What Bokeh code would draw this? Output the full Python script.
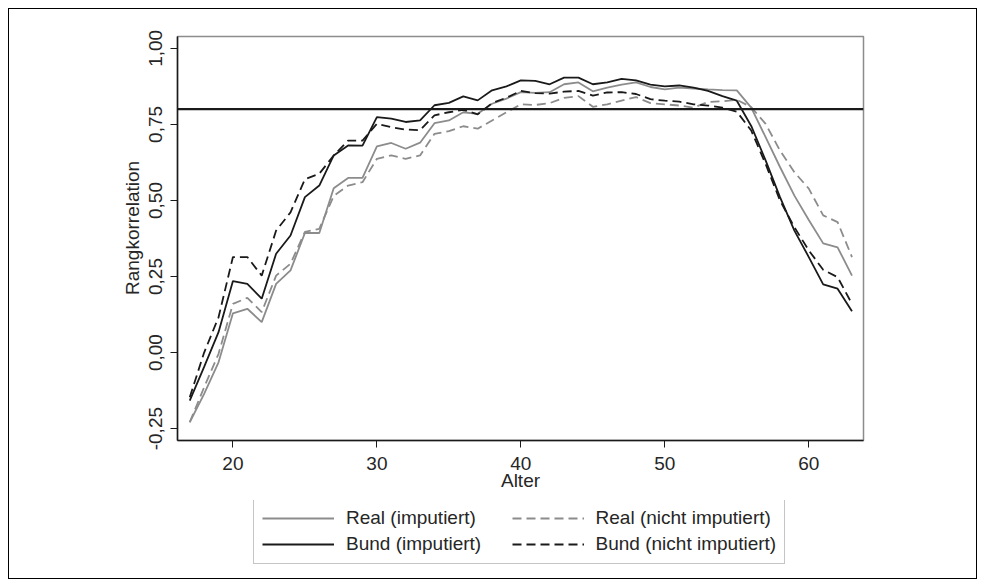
from bokeh.plotting import figure
from bokeh.layouts import column
from bokeh.models import (FixedTicker, CustomJSTickFormatter, Legend, LegendItem,
                          Span, Range1d)
from bokeh.embed import file_html
from bokeh.resources import INLINE

ages = list(range(17, 64))

real_imp = [-0.229, -0.136, -0.032, 0.129, 0.144, 0.100, 0.226, 0.270, 0.393, 0.393,
            0.540, 0.574, 0.574, 0.678, 0.689, 0.670, 0.690, 0.754, 0.763, 0.790,
            0.785, 0.818, 0.835, 0.856, 0.854, 0.856, 0.882, 0.888, 0.859, 0.871,
            0.881, 0.888, 0.873, 0.865, 0.871, 0.868, 0.865, 0.863, 0.862, 0.805,
            0.708, 0.610, 0.516, 0.436, 0.359, 0.346, 0.253]

real_nimp = [-0.229, -0.114, -0.004, 0.160, 0.180, 0.133, 0.253, 0.292, 0.397, 0.407,
             0.515, 0.549, 0.560, 0.637, 0.648, 0.637, 0.648, 0.719, 0.728, 0.744,
             0.736, 0.763, 0.790, 0.816, 0.814, 0.820, 0.837, 0.843, 0.808, 0.816,
             0.828, 0.840, 0.820, 0.816, 0.812, 0.805, 0.824, 0.826, 0.831, 0.807,
             0.752, 0.664, 0.593, 0.539, 0.451, 0.429, 0.314]

bund_imp = [-0.158, -0.047, 0.067, 0.235, 0.226, 0.177, 0.325, 0.385, 0.511, 0.549,
            0.648, 0.681, 0.680, 0.774, 0.769, 0.758, 0.763, 0.813, 0.821, 0.842,
            0.829, 0.862, 0.875, 0.895, 0.893, 0.882, 0.904, 0.904, 0.882, 0.888,
            0.900, 0.895, 0.881, 0.875, 0.878, 0.871, 0.860, 0.843, 0.828, 0.745,
            0.632, 0.511, 0.401, 0.314, 0.224, 0.210, 0.136]

bund_nimp = [-0.147, 0.000, 0.116, 0.314, 0.314, 0.253, 0.401, 0.461, 0.570, 0.588,
             0.648, 0.697, 0.697, 0.752, 0.741, 0.733, 0.731, 0.780, 0.790, 0.798,
             0.783, 0.820, 0.838, 0.860, 0.853, 0.851, 0.858, 0.860, 0.845, 0.855,
             0.856, 0.850, 0.833, 0.828, 0.825, 0.816, 0.812, 0.805, 0.792, 0.730,
             0.620, 0.500, 0.412, 0.336, 0.272, 0.248, 0.160]

series_labels = ["Real (imputiert)", "Real (nicht imputiert)",
                 "Bund (imputiert)", "Bund (nicht imputiert)"]
x_ticks = [20, 30, 40, 50, 60]
y_ticks = [-0.25, 0.0, 0.25, 0.5, 0.75, 1.0]
threshold = 0.8
x_title = "Alter"
y_title = "Rangkorrelation"

FONT = "Liberation Sans"
FS = "19px"
TXT = "#262626"
GRAY = "#8c8c8c"
BLACK = "#1a1a1a"

W = 985
p = figure(width=W, height=500, output_backend="svg", toolbar_location=None,
           x_range=Range1d(16.15, 63.8), y_range=Range1d(-0.289, 1.039),
           min_border_left=177, min_border_right=122, min_border_top=36,
           min_border_bottom=60)
p.background_fill_color = None
p.border_fill_color = None
p.outline_line_color = GRAY
p.outline_line_width = 1.5
p.xgrid.visible = False
p.ygrid.visible = False

for ax in (p.xaxis[0], p.yaxis[0]):
    ax.axis_line_color = BLACK
    ax.axis_line_width = 1.5
    ax.major_tick_line_color = BLACK
    ax.major_tick_in = 0
    ax.major_tick_out = 7
    ax.minor_tick_line_color = None
    ax.major_label_text_font = FONT
    ax.major_label_text_font_size = FS
    ax.major_label_text_color = TXT
    ax.axis_label_text_font = FONT
    ax.axis_label_text_font_size = FS
    ax.axis_label_text_font_style = "normal"
    ax.axis_label_text_color = TXT

p.xaxis.ticker = FixedTicker(ticks=x_ticks)
p.xaxis.axis_label = x_title
p.xaxis.axis_label_standoff = -3
p.xaxis.major_label_standoff = 9

p.yaxis.ticker = FixedTicker(ticks=y_ticks)
p.yaxis.formatter = CustomJSTickFormatter(code="return tick.toFixed(2).replace('.', ',');")
p.yaxis.major_label_orientation = "vertical"
p.yaxis.major_label_standoff = 8
p.yaxis.axis_label = "\u00a0" * 4 + y_title
p.yaxis.axis_label_standoff = 4

p.add_layout(Span(location=threshold, dimension="width", line_color=BLACK, line_width=2.2))

styles = [(real_imp, GRAY, "solid"), (real_nimp, GRAY, "9 5"),
          (bund_imp, BLACK, "solid"), (bund_nimp, BLACK, "9 5")]
for ys, col, dash in styles:
    p.line(ages, ys, line_color=col, line_width=1.8, line_dash=dash)

# legend panel below the chart (its frame is aligned with the chart's frame)
q = figure(width=W, height=87, output_backend="svg", toolbar_location=None,
           x_range=Range1d(16.15, 63.8), y_range=Range1d(10, 11),
           x_axis_location=None, y_axis_location=None,
           min_border_left=177, min_border_right=122, min_border_top=0, min_border_bottom=0)
q.outline_line_color = None
q.xgrid.visible = False
q.ygrid.visible = False
q.background_fill_color = None
q.border_fill_color = None

proxies = []
for ys, col, dash in styles:
    proxies.append(q.line(ages, ys, line_color=col, line_width=1.8, line_dash=dash))

pad = "\u00a0" * 5
legend_texts = [series_labels[0] + pad, series_labels[1],
                series_labels[2] + pad, series_labels[3]]
items = [LegendItem(label=lab, renderers=[r]) for lab, r in zip(legend_texts, proxies)]
legend = Legend(items=items, orientation="horizontal", ncols=2, location=(76, 23),
                glyph_width=72, glyph_height=20, label_standoff=12, spacing=4,
                padding=8, margin=0, label_text_font=FONT, label_text_font_size=FS,
                label_text_color=TXT, border_line_color=GRAY, border_line_width=1.5,
                background_fill_color="white", background_fill_alpha=1.0)
q.add_layout(legend)

layout = column(p, q, spacing=0)
layout.styles = {"outline": "1px solid black", "outline-offset": "-9px",
                 "background-color": "white"}

open("out.html", "w").write(file_html(layout, INLINE))
